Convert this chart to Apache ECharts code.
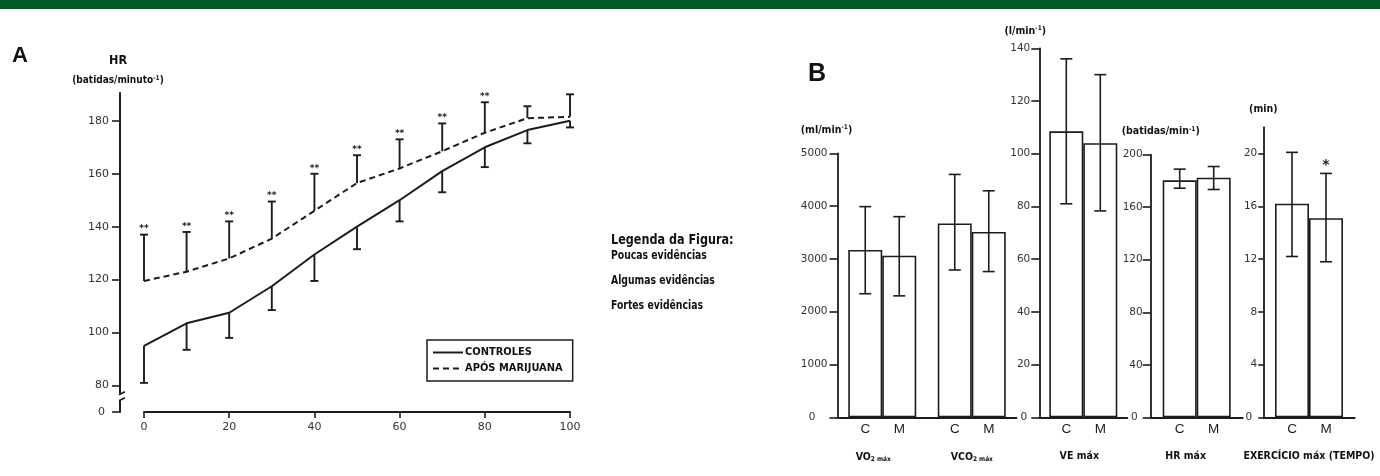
<!DOCTYPE html>
<html>
<head>
<meta charset="utf-8">
<script src="https://cdn.jsdelivr.net/npm/echarts@6/dist/echarts.min.js"></script>
<style>
  html, body { margin: 0; padding: 0; background: #fff; }
  #chart { width: 1380px; height: 476px; }
</style>
</head>
<body>
<div id="chart"></div>
<script>
const NARROW = '"Liberation Sans Narrow", "DejaVu Sans Condensed", sans-serif';
const TICKS = '"DejaVu Sans", sans-serif';
const INK = '#1c1c1c';

// ---- panel A: HR during exercise
const tempo = [0, 10, 20, 30, 40, 50, 60, 70, 80, 90, 100];
const hrControles = [95, 103.5, 107.5, 117.5, 129.5, 140, 150, 161, 170, 176.5, 180];
const hrControlesLow = [81, 93.5, 98, 108.5, 119.5, 131.5, 142, 153, 162.5, 171.5, 177.5];
const hrMarijuana = [119.5, 123, 128, 135.5, 146, 156.5, 162, 168.5, 175.5, 181, 181.5];
const hrMarijuanaHigh = [137, 138, 142, 149.5, 160, 167, 173, 179, 187, 185.5, 190];
const hrSignif = ['**', '**', '**', '**', '**', '**', '**', '**', '**', '', ''];
const hrTickValues = [70, 80, 100, 120, 140, 160, 180]; // 70 = bottom of the broken axis, labelled 0
const tempoTicks = [0, 20, 40, 60, 80, 100];

// ---- panel B: maximal values, controls (C) vs after marijuana (M)
const gasCats = ['VO2 máx', 'VCO2 máx'];
const gasC = [3170, 3670], gasCLow = [2340, 2790], gasCHigh = [3990, 4600];
const gasM = [3060, 3510], gasMLow = [2300, 2760], gasMHigh = [3800, 4290];

const veCats = ['VE máx'];
const veC = [108.5], veCLow = [81], veCHigh = [136];
const veM = [104], veMLow = [78.3], veMHigh = [130];

const hrMaxCats = ['HR máx'];
const hrMaxC = [180.5], hrMaxCLow = [174.5], hrMaxCHigh = [189];
const hrMaxM = [182.5], hrMaxMLow = [173.5], hrMaxMHigh = [191];

const exCats = ['EXERCÍCIO máx (TEMPO)'];
const exC = [16.2], exCLow = [12.2], exCHigh = [20.1];
const exM = [15.1], exMLow = [11.8], exMHigh = [18.5];
const exMSignif = ['*'];

const legendaItens = ['Poucas evidências', 'Algumas evidências', 'Fortes evidências'];

const BAR_W = 34;

function errorSeries(axis, rows, opts) {
  return {
    type: 'custom', xAxisIndex: axis, yAxisIndex: axis, silent: true, z: 5,
    data: rows,
    renderItem(params, api) {
      const a = api.coord([api.value(0), api.value(1)]);
      const b = api.coord([api.value(0), api.value(2)]);
      const x = a[0] + (opts.offset || 0);
      const st = { stroke: INK, lineWidth: opts.width || 1.6 };
      const cap = opts.cap;
      const kids = [
        { type: 'line', shape: { x1: x, y1: a[1], x2: x, y2: b[1] }, style: st },
        { type: 'line', shape: { x1: x - cap, y1: b[1], x2: x + cap, y2: b[1] }, style: st }
      ];
      if (opts.bothCaps) {
        kids.push({ type: 'line', shape: { x1: x - cap, y1: a[1], x2: x + cap, y2: a[1] }, style: st });
      }
      const mark = opts.marks && opts.marks[params.dataIndex];
      if (mark) {
        kids.push({ type: 'text', style: {
          text: mark, x: x, y: b[1] - 1, align: 'center', verticalAlign: 'bottom',
          fontSize: opts.markSize, fontWeight: 'bold', fontFamily: TICKS, fill: INK } });
      }
      return { type: 'group', children: kids };
    }
  };
}

const chart = echarts.init(document.getElementById('chart'), null, { renderer: 'canvas' });

const GA = { left: 144, top: 93, width: 426, height: 319 };
const panels = [
  { cats: gasCats, c: gasC, cl: gasCLow, ch: gasCHigh, m: gasM, ml: gasMLow, mh: gasMHigh,
    grid: { left: 837.5, top: 153.3, width: 179, height: 264 }, max: 5000, interval: 1000,
    name: '(ml/min{sup|-1})', namePad: [0, 22, 0, 0], nameGap: 18, zeroPad: 12, labelMargin: 10, catShift: [18, 0] },
  { cats: veCats, c: veC, cl: veCLow, ch: veCHigh, m: veM, ml: veMLow, mh: veMHigh,
    grid: { left: 1039.3, top: 48.3, width: 88, height: 369 }, max: 140, interval: 20,
    name: '(l/min{sup|-1})', namePad: [0, 28, 0, 0], nameGap: 12, zeroPad: 3, labelMargin: 9, catShift: [8] },
  { cats: hrMaxCats, c: hrMaxC, cl: hrMaxCLow, ch: hrMaxCHigh, m: hrMaxM, ml: hrMaxMLow, mh: hrMaxMHigh,
    grid: { left: 1150.7, top: 154.7, width: 92, height: 262.6 }, max: 200, interval: 40,
    name: '(batidas/min{sup|-1})', namePad: [0, 0, 0, 20], nameGap: 18, zeroPad: 5, labelMargin: 8, catShift: [22] },
  { cats: exCats, c: exC, cl: exCLow, ch: exCHigh, m: exM, ml: exMLow, mh: exMHigh, marks: exMSignif,
    grid: { left: 1263.3, top: 127.3, width: 91.4, height: 290 }, max: 22, interval: 4,
    custom: [0, 4, 8, 12, 16, 20],
    name: '(min)', namePad: [0, 0, 0, 0], nameGap: 13, zeroPad: 5, labelMargin: 6, tickLen: 5, catShift: [0] }
];

const grids = [GA];
const xAxes = [{
  gridIndex: 0, type: 'value', min: 0, max: 100,
  axisLine: { show: true, onZero: false, lineStyle: { color: INK, width: 2 } },
  axisTick: { show: true, customValues: tempoTicks, length: 6, lineStyle: { color: INK, width: 1.6 } },
  axisLabel: { customValues: tempoTicks, margin: 10, fontFamily: TICKS, fontSize: 11, color: '#333' },
  splitLine: { show: false }
}];
const yAxes = [{
  gridIndex: 0, type: 'value', min: 70, max: 190.5, offset: 24,
  name: '{t|HR}\n{s|(batidas/minuto}{sup|-1}{s|)}', nameLocation: 'end', nameGap: 8,
  nameTextStyle: {
    align: 'center', padding: [0, 4, 0, 0], fontFamily: NARROW, color: '#111',
    rich: {
      t: { fontSize: 12.5, fontWeight: 'bold', fontFamily: NARROW, lineHeight: 28, color: '#111' },
      s: { fontSize: 10, fontWeight: 'bold', fontFamily: NARROW, color: '#111' },
      sup: { fontSize: 6.5, fontWeight: 'bold', fontFamily: NARROW, verticalAlign: 'top', color: '#111' }
    }
  },
  axisLine: { show: true, onZero: false, lineStyle: { color: INK, width: 2 } },
  axisTick: { show: true, customValues: hrTickValues, length: 8, lineStyle: { color: INK, width: 1.6 } },
  axisLabel: { customValues: hrTickValues, margin: 11, fontFamily: TICKS, fontSize: 11, color: '#333',
    formatter: v => (v === 70 ? '{z|0}' : String(v)),
    rich: { z: { fontFamily: TICKS, fontSize: 11, color: '#333', padding: [0, 4, 0, 0] } } },
  splitLine: { show: false }
}];

const series = [
  { name: 'CONTROLES', type: 'line', xAxisIndex: 0, yAxisIndex: 0, symbol: 'none',
    lineStyle: { color: INK, width: 2 }, itemStyle: { color: INK },
    data: tempo.map((t, i) => [t, hrControles[i]]), z: 4 },
  { name: 'APÓS MARIJUANA', type: 'line', xAxisIndex: 0, yAxisIndex: 0, symbol: 'none',
    lineStyle: { color: INK, width: 2, type: [6, 4] }, itemStyle: { color: INK },
    data: tempo.map((t, i) => [t, hrMarijuana[i]]), z: 4 },
  errorSeries(0, tempo.map((t, i) => [t, hrControles[i], hrControlesLow[i]]), { cap: 4, width: 1.9 }),
  errorSeries(0, tempo.map((t, i) => [t, hrMarijuana[i], hrMarijuanaHigh[i]]),
    { cap: 4, width: 1.9, marks: hrSignif, markSize: 9 })
];

panels.forEach((p, k) => {
  const ax = k + 1;
  grids.push(p.grid);
  xAxes.push({
    gridIndex: ax, type: 'category', data: p.cats,
    axisLine: { show: true, lineStyle: { color: INK, width: 1.8 } },
    axisTick: { show: false },
    axisLabel: {
      margin: 33, interval: 0,
      formatter: (v, i) => {
        const m = v.match(/^(\w+)2 (máx)$/);
        const txt = m ? '{b|' + m[1] + '}{s|2 ' + m[2] + '}' : '{b|' + v + '}';
        const shift = p.catShift[i] || 0;
        return shift ? txt + '{g' + shift + '|}' : txt;
      },
      rich: Object.assign({
        b: { fontFamily: NARROW, fontWeight: 'bold', fontSize: 10.5, color: '#111' },
        s: { fontFamily: NARROW, fontWeight: 'bold', fontSize: 6.5, color: '#111', verticalAlign: 'bottom', padding: [6, 0, 0, 0] }
      }, Object.fromEntries(p.catShift.map(s => ['g' + s, { width: s }])))
    },
    splitLine: { show: false }
  });
  const tickOpt = { show: true, length: p.tickLen || 8, lineStyle: { color: INK, width: 1.6 } };
  const labOpt = {
    margin: p.labelMargin, fontFamily: TICKS, fontSize: 10.5, color: '#333',
    formatter: v => (v === 0 ? '{z|0}' : String(v)),
    rich: { z: { fontFamily: TICKS, fontSize: 10.5, color: '#333', padding: [0, p.zeroPad, 0, 0] } }
  };
  if (p.custom) { tickOpt.customValues = p.custom; labOpt.customValues = p.custom; }
  yAxes.push({
    gridIndex: ax, type: 'value', min: 0, max: p.max, interval: p.interval,
    name: p.name, nameLocation: 'end', nameGap: p.nameGap,
    nameTextStyle: {
      align: 'center', padding: p.namePad, fontFamily: NARROW, fontWeight: 'bold', fontSize: 10.5, color: '#111',
      rich: { sup: { fontSize: 6.5, fontWeight: 'bold', fontFamily: NARROW, verticalAlign: 'top', color: '#111' } }
    },
    axisLine: { show: true, lineStyle: { color: INK, width: 1.8 } },
    axisTick: tickOpt,
    axisLabel: labOpt,
    splitLine: { show: false }
  });
  const barBase = {
    type: 'bar', xAxisIndex: ax, yAxisIndex: ax, barWidth: BAR_W, barGap: '0%',
    itemStyle: { color: '#fff', borderColor: INK, borderWidth: 1.6 },
    label: { show: true, position: 'bottom', distance: 5, formatter: '{a}',
      fontFamily: '"Liberation Sans", sans-serif', fontSize: 13.5, color: INK },
    silent: true, z: 3
  };
  series.push(Object.assign({ name: 'C', data: p.c }, barBase));
  series.push(Object.assign({ name: 'M', data: p.m }, barBase));
  series.push(errorSeries(ax, p.cl.map((l, i) => [i, l, p.ch[i]]), { cap: 6, offset: -BAR_W / 2, bothCaps: true }));
  series.push(errorSeries(ax, p.ml.map((l, i) => [i, l, p.mh[i]]),
    { cap: 6, offset: BAR_W / 2, bothCaps: true, marks: p.marks, markSize: 14 }));
});

const graphics = [
  { id: 'header', type: 'rect', x: 0, y: 0, shape: { width: 1380, height: 9 }, style: { fill: '#005c26' }, silent: true },
  { id: 'letterA', type: 'text', x: 12, y: 45, style: { text: 'A', fontFamily: '"Liberation Sans", sans-serif', fontWeight: 'bold', fontSize: 22, fill: '#111' } },
  { id: 'letterB', type: 'text', x: 808, y: 62, style: { text: 'B', fontFamily: '"Liberation Sans", sans-serif', fontWeight: 'bold', fontSize: 25, fill: '#111' } },
  { id: 'legTitle', type: 'text', x: 611, y: 240, scaleX: 0.86,
    style: { text: 'Legenda da Figura:', verticalAlign: 'middle', fontFamily: NARROW, fontWeight: 'bold', fontSize: 14.5, fill: '#111' } }
];
legendaItens.forEach((t, i) => graphics.push({
  id: 'leg' + i, type: 'text', x: 611, y: 256 + i * 25, scaleX: 0.86,
  style: { text: t, verticalAlign: 'middle', fontFamily: NARROW, fontWeight: 'bold', fontSize: 12, fill: '#111' }
}));

chart.setOption({
  animation: false,
  backgroundColor: '#fff',
  grid: grids,
  xAxis: xAxes,
  yAxis: yAxes,
  series: series,
  legend: {
    data: ['CONTROLES', 'APÓS MARIJUANA'], selectedMode: false,
    orient: 'vertical', left: 427, top: 340,
    itemWidth: 30, itemHeight: 10, itemGap: 5,
    padding: [7, 10, 7, 5],
    itemStyle: { opacity: 0 },
    borderColor: INK, borderWidth: 1.5,
    textStyle: { fontFamily: NARROW, fontWeight: 'bold', fontSize: 11, color: '#111', padding: [0, 0, 0, -3] }
  },
  graphic: graphics
});

// axis break mark on the HR axis between 0 and 80
const bx = GA.left - 24;
const by = chart.convertToPixel({ yAxisIndex: 0 }, 73.5);
chart.setOption({
  graphic: [
    { id: 'breakMask', type: 'rect', shape: { x: bx - 3, y: by - 9, width: 6, height: 7 }, style: { fill: '#fff' }, z: 100, silent: true },
    { id: 'breakA', type: 'line', shape: { x1: bx - 1, y1: by - 8, x2: bx + 5, y2: by - 11 },
      style: { stroke: INK, lineWidth: 1.6 }, z: 101, silent: true },
    { id: 'breakB', type: 'line', shape: { x1: bx - 1, y1: by - 2, x2: bx + 5, y2: by - 5 },
      style: { stroke: INK, lineWidth: 1.6 }, z: 101, silent: true }
  ]
});
</script>
</body>
</html>
